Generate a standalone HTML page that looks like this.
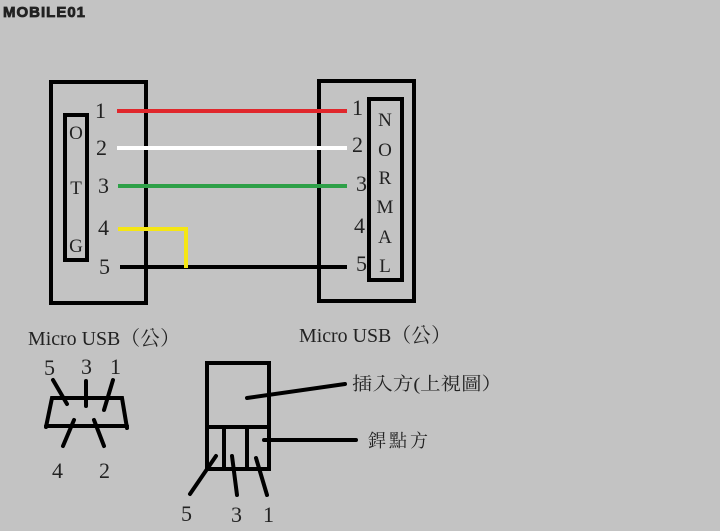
<!DOCTYPE html>
<html><head><meta charset="utf-8"><style>
html,body{margin:0;padding:0;background:#c3c3c3;}
svg{display:block;}
text{font-family:"Liberation Serif","Noto Serif CJK SC",serif;fill:#222;}
.c{font-family:"Liberation Serif","Noto Serif CJK TC","Noto Sans CJK TC",serif;}
</style></head><body>
<svg width="720" height="531" viewBox="0 0 720 531" xmlns="http://www.w3.org/2000/svg">
<rect width="720" height="531" fill="#c3c3c3"/>
<text x="3" y="17" font-size="15" font-weight="bold" fill="#fff" stroke="#222" stroke-width="0.8" style="font-family:'Liberation Sans',sans-serif;letter-spacing:1px">MOBILE01</text>
<g fill="none" stroke="#000" stroke-width="4">
<rect x="51" y="82" width="95" height="221"/>
<rect x="65" y="115" width="22" height="145"/>
<rect x="319" y="81" width="95" height="220"/>
<rect x="369" y="99" width="33" height="181"/>
</g>
<g stroke-width="4" stroke-linecap="butt">
<line x1="117" y1="111" x2="347" y2="111" stroke="#e0272c"/>
<line x1="117" y1="148" x2="347" y2="148" stroke="#fff"/>
<line x1="118" y1="186" x2="347" y2="186" stroke="#2ea048"/>
<line x1="120" y1="267" x2="347" y2="267" stroke="#000"/>
<polyline points="118,229 186,229 186,268" fill="none" stroke="#f5e614"/>
</g>
<g font-size="22">
<text x="95" y="118">1</text><text x="96" y="155">2</text><text x="98" y="193">3</text><text x="98" y="235">4</text><text x="99" y="274">5</text>
<text x="352" y="115">1</text><text x="352" y="152">2</text><text x="356" y="191">3</text><text x="354" y="233">4</text><text x="356" y="271">5</text>
</g>
<g font-size="19" text-anchor="middle">
<text x="76" y="139">O</text><text x="76" y="194">T</text><text x="76" y="252">G</text>
<text x="385" y="126">N</text><text x="385" y="156">O</text><text x="385" y="184">R</text><text x="385" y="213">M</text><text x="385" y="243">A</text><text x="385" y="272">L</text>
</g>
<text x="28" y="345" font-size="20" class="c" textLength="152" lengthAdjust="spacingAndGlyphs">Micro USB（公）</text>
<text x="299" y="342" font-size="20" class="c" textLength="152" lengthAdjust="spacingAndGlyphs">Micro USB（公）</text>
<g stroke="#000" stroke-width="4" fill="none" stroke-linecap="round">
<polyline points="46,427 52,398 122,398 127,428"/>
<line x1="46" y1="426" x2="127" y2="426"/>
<line x1="53" y1="380" x2="67" y2="404"/>
<line x1="86" y1="381" x2="86" y2="406"/>
<line x1="113" y1="380" x2="104" y2="410"/>
<line x1="74" y1="420" x2="63" y2="446"/>
<line x1="94" y1="420" x2="104" y2="446"/>
<rect x="207" y="363" width="62" height="106"/>
<line x1="207" y1="427" x2="269" y2="427"/>
<line x1="224" y1="427" x2="224" y2="469"/>
<line x1="247" y1="427" x2="247" y2="469"/>
<line x1="216" y1="456" x2="190" y2="494"/>
<line x1="232" y1="456" x2="237" y2="495"/>
<line x1="256" y1="458" x2="267" y2="495"/>
<line x1="247" y1="398" x2="345" y2="384"/>
<line x1="264" y1="440" x2="356" y2="440"/>
</g>
<g font-size="22">
<text x="44" y="375">5</text><text x="81" y="374">3</text><text x="110" y="374">1</text>
<text x="52" y="478">4</text><text x="99" y="478">2</text>
<text x="181" y="521">5</text><text x="231" y="522">3</text><text x="263" y="522">1</text>
</g>
<text x="352" y="390" font-size="18" class="c" textLength="150" lengthAdjust="spacingAndGlyphs">插入方(上視圖）</text>
<text x="368" y="447" font-size="18" class="c" textLength="60" lengthAdjust="spacing">銲點方</text>
</svg>
</body></html>
